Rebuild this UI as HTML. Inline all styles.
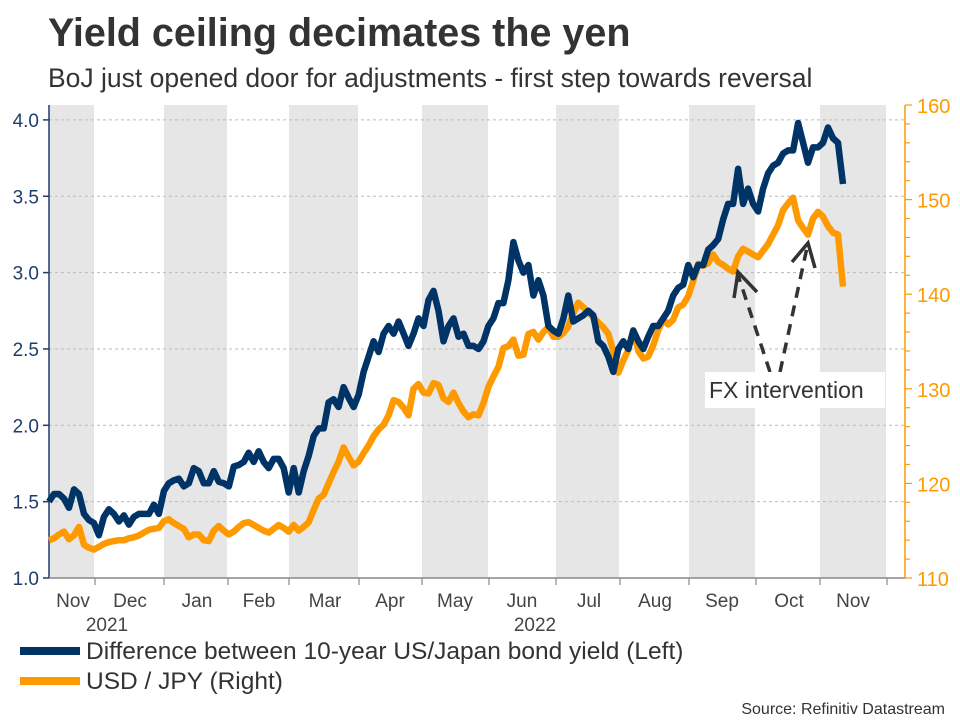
<!DOCTYPE html>
<html><head><meta charset="utf-8"><style>
body{margin:0;background:#fff;width:960px;height:720px;overflow:hidden;font-family:"Liberation Sans",Arial,sans-serif}
svg{display:block}
</style></head><body>
<svg id="chart" width="960" height="720" xmlns="http://www.w3.org/2000/svg">
<text x="48" y="46" font-size="39.5" font-weight="bold" fill="#333">Yield ceiling decimates the yen</text>
<text x="48" y="87" font-size="26.5" fill="#333">BoJ just opened door for adjustments - first step towards reversal</text>
<g id="bands"></g><g id="grid"></g><g id="axes"></g><g id="series"></g>
<g>
<path d="M770,372 L737,272 M780,372 L808,243" stroke="#333" stroke-width="3.5" stroke-dasharray="11,8" fill="none"/>
<path d="M734,298 L738,272 L757,292 M792,262 L808,243 L815,268" stroke="#333" stroke-width="3.5" fill="none"/>
<rect x="705" y="372" width="180" height="36" fill="#fff"/>
<text x="709" y="398" font-size="23" fill="#333">FX intervention</text>
</g>
<g>
<line x1="20" y1="651" x2="80" y2="651" stroke="#003366" stroke-width="8"/>
<text x="86" y="659" font-size="24.5" fill="#333">Difference between 10-year US/Japan bond yield (Left)</text>
<line x1="20" y1="681" x2="80" y2="681" stroke="#ff9900" stroke-width="8"/>
<text x="86" y="689" font-size="24.5" fill="#333">USD / JPY (Right)</text>
</g>
<text x="945" y="714" font-size="16" fill="#333" text-anchor="end">Source: Refinitiv Datastream</text>
</svg>
<script>
const monthLabels=["Nov","Dec","Jan","Feb","Mar","Apr","May","Jun","Jul","Aug","Sep","Oct","Nov"];
const leftTicks=[1.0,1.5,2.0,2.5,3.0,3.5,4.0];
const rightTicks=[110,120,130,140,150,160];
const yieldDiff=[1.5,1.55,1.55,1.52,1.46,1.58,1.55,1.42,1.38,1.36,1.28,1.40,1.45,1.42,1.37,1.41,1.35,1.40,1.42,1.42,1.42,1.48,1.42,1.57,1.62,1.64,1.65,1.60,1.62,1.72,1.70,1.62,1.62,1.70,1.63,1.62,1.60,1.73,1.74,1.76,1.82,1.76,1.83,1.76,1.72,1.78,1.78,1.72,1.56,1.72,1.56,1.70,1.80,1.93,1.98,1.98,2.15,2.17,2.12,2.25,2.18,2.12,2.20,2.35,2.45,2.55,2.48,2.60,2.65,2.60,2.68,2.60,2.52,2.60,2.70,2.65,2.82,2.88,2.75,2.55,2.65,2.70,2.58,2.60,2.52,2.52,2.50,2.55,2.65,2.70,2.80,2.80,2.95,3.20,3.08,3.00,3.05,2.85,2.95,2.85,2.65,2.62,2.60,2.70,2.85,2.68,2.70,2.72,2.75,2.72,2.55,2.52,2.45,2.35,2.50,2.55,2.50,2.62,2.55,2.50,2.58,2.65,2.65,2.70,2.75,2.85,2.90,2.92,3.05,2.97,3.05,3.05,3.15,3.18,3.22,3.35,3.45,3.45,3.68,3.45,3.55,3.45,3.40,3.55,3.65,3.70,3.72,3.78,3.80,3.80,3.98,3.85,3.72,3.82,3.82,3.85,3.95,3.88,3.85,3.58];
const usdJpy=[114.0,114.2,114.6,114.9,114.1,114.5,115.4,113.5,113.2,113.0,113.3,113.6,113.8,113.9,114.0,114.0,114.2,114.3,114.5,114.8,115.1,115.2,115.3,116.0,116.2,115.8,115.5,115.2,114.3,114.6,114.6,114.0,113.9,115.0,115.5,115.0,114.6,114.9,115.4,115.8,115.9,115.6,115.3,115.0,114.8,115.2,115.6,115.3,114.9,115.6,115.0,115.4,115.9,117.2,118.4,118.8,120.0,121.2,122.3,123.8,122.8,121.9,122.3,123.2,124.0,125.0,125.7,126.2,127.2,128.8,128.6,128.0,127.2,130.0,130.5,129.6,129.5,130.6,130.4,129.0,128.6,129.6,128.5,127.6,127.0,127.3,127.2,128.5,130.2,131.3,132.3,134.3,134.5,135.2,133.5,133.6,135.8,136.0,135.2,136.0,136.5,135.5,135.5,135.9,136.6,138.0,139.1,138.6,138.1,137.6,137.0,136.5,135.8,134.0,131.7,133.0,134.1,136.2,134.0,133.2,133.4,134.6,136.2,137.3,136.8,137.3,138.6,138.9,139.8,141.4,143.2,143.0,143.3,144.2,143.4,143.1,142.7,142.4,144.0,144.8,144.5,144.2,143.9,144.6,145.3,146.3,147.3,148.9,149.6,150.2,147.8,147.0,146.3,148.0,148.7,148.2,147.2,146.5,146.3,140.8];

const NS="http://www.w3.org/2000/svg";
const X0=49,X1=905,XS=49,XE=843,YB=578;
const monthEdges=[49,95,164,228,289,359,422,489,556,620,689,756,820,887];
const yL=v=>YB-(v-1.0)*152.7;
const yR=v=>YB-(v-110)*9.46;
const xI=(i,n)=>XS+(XE-XS)*i/(n-1);
function mk(tag,attrs,parent){const e=document.createElementNS(NS,tag);for(const k in attrs)e.setAttribute(k,attrs[k]);parent.appendChild(e);return e;}
const bands=document.getElementById('bands'),grid=document.getElementById('grid'),axes=document.getElementById('axes'),series=document.getElementById('series');
mk('rect',{x:X0,y:105,width:X1-X0,height:YB-105,fill:'#fff'},bands);
for(let m=0;m<monthEdges.length-1;m+=2){
  const r=mk('rect',{x:monthEdges[m],y:105,width:monthEdges[m+1]-monthEdges[m]-1,height:YB-105,fill:'#e6e6e6'},bands);
  
  
}
leftTicks.forEach(v=>{
  const y=yL(v);
  if(v>1.0){const g=mk('line',{x1:X0,x2:X1,y1:y,y2:y,stroke:'#bbb','stroke-width':1,'stroke-dasharray':'3,3'},grid);
  
  }
  mk('line',{x1:X0-6,x2:X0,y1:y,y2:y,stroke:'#1f3d6b','stroke-width':1.5},axes);
  const t=mk('text',{x:X0-10,y:y+7,'font-size':19,fill:'#1f3d6b','text-anchor':'end'},axes);
  t.textContent=v.toFixed(1);
  
  
});
mk('line',{x1:X0,x2:X0,y1:105,y2:YB,stroke:'#1f3d6b','stroke-width':1.5},axes);
mk('line',{x1:X0,x2:X1,y1:YB,y2:YB,stroke:'#888','stroke-width':1.5},axes);
mk('line',{x1:X1,x2:X1,y1:105,y2:YB,stroke:'#ff9900','stroke-width':1.5},axes);
for(let v=110;v<=160;v+=2){mk('line',{x1:X1,x2:X1+(v%10===0?7:5),y1:yR(v),y2:yR(v),stroke:'#ff9900','stroke-width':1.2},axes);}
rightTicks.forEach(v=>{
  const t=mk('text',{x:X1+12,y:yR(v)+8,'font-size':20,fill:'#ff9900'},axes);
  t.textContent=v;
  
  
});
monthEdges.slice(1).forEach(x=>mk('line',{x1:x,x2:x,y1:YB,y2:YB+7,stroke:'#888','stroke-width':1.2},axes));
const labelCenters=[73,130,197,259,325,390,455,522,589,655,722,789,853];
monthLabels.forEach((m,i)=>{
  const t=mk('text',{x:labelCenters[i],y:607,'font-size':19,fill:'#444','text-anchor':'middle'},axes);
  t.textContent=m;
  
  
});
[[107,'2021'],[535,'2022']].forEach(([x,s])=>{const t=mk('text',{x:x,y:631,'font-size':19,fill:'#444','text-anchor':'middle'},axes);t.textContent=s;
  
  });
function line(vals,yf,color,name){
  const d=vals.map((v,i)=>(i?'L':'M')+xI(i,vals.length).toFixed(1)+','+yf(v).toFixed(1)).join('');
  const p=mk('path',{d:d,fill:'none',stroke:color,'stroke-width':6.5,'stroke-linejoin':'round'},series);
  
  
}
line(usdJpy,yR,'#ff9900','usdjpy-line');
line(yieldDiff,yL,'#003366','yield-diff-line');
</script>
</body></html>
